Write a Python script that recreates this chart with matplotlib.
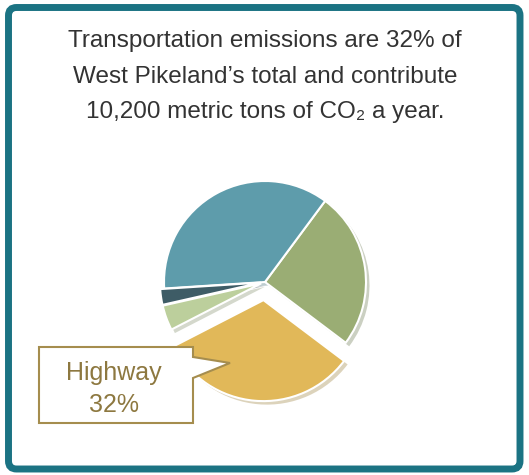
import matplotlib
matplotlib.use("Agg")
import matplotlib.pyplot as plt
from matplotlib.patches import FancyBboxPatch, Polygon

plt.rcParams['font.family'] = ['Liberation Sans', 'DejaVu Sans']

# emission shares (percent), counter-clockwise from the lower right
sectors = ['Other road', 'Residential', 'Rail', 'Off-road', 'Highway']
shares = [25, 36, 2.5, 4, 32]
colors = ['#9aad74', '#5e9cab', '#3e5c66', '#bccf9c', '#e1b859']
explode = [0.0, 0.0, 0.04, 0.04, 0.18]

title_lines = ["Transportation emissions are 32% of",
               "West Pikeland\u2019s total and contribute",
               "10,200 metric tons of CO\u2082 a year."]
callout_label = ["Highway", "32%"]

W, H = 529, 475
fig = plt.figure(figsize=(W / 100, H / 100), dpi=100)

# pie axes: centre at (265, 282) px, radius ~101 px
cx, cy, r = 265, 282, 101
half = 1.3 * r
ax = fig.add_axes([(cx - half) / W, (H - cy - half) / H, 2 * half / W, 2 * half / H])
ax.pie(shares, colors=colors, explode=explode, startangle=-37, counterclock=True,
       wedgeprops=dict(edgecolor='white', linewidth=1.5),
       shadow=dict(ox=0.025, oy=-0.025, shade=0.3, alpha=0.35, edgecolor='none'))
ax.set_xlim(-1.3, 1.3)
ax.set_ylim(-1.3, 1.3)
ax.set_aspect('equal')
ax.axis('off')

# overlay in pixel coordinates for frame, title and callout
ov = fig.add_axes([0, 0, 1, 1], zorder=5)
ov.set_xlim(0, W)
ov.set_ylim(H, 0)
ov.axis('off')
ov.patch.set_alpha(0)

frame = FancyBboxPatch((8.5, 7.5), 511.5, 461.5, boxstyle="round,pad=0,rounding_size=8",
                       fill=False, edgecolor='#1b7383', linewidth=5)
ov.add_patch(frame)

for i, base in enumerate([47, 83, 118]):
    ov.text(265, base, title_lines[i], ha='center', va='baseline', fontsize=17.5, color='#333333')

box = Polygon([(39, 347), (193, 347), (193, 357), (230, 363), (193, 378),
               (193, 423), (39, 423)], closed=True, facecolor='white',
              edgecolor='#a58d4e', linewidth=1.5)
ov.add_patch(box)
ov.text(114, 380, callout_label[0], ha='center', va='baseline', fontsize=18, color='#8d7840')
ov.text(114, 412, callout_label[1], ha='center', va='baseline', fontsize=18, color='#8d7840')

fig.savefig('out.png', dpi=100)
